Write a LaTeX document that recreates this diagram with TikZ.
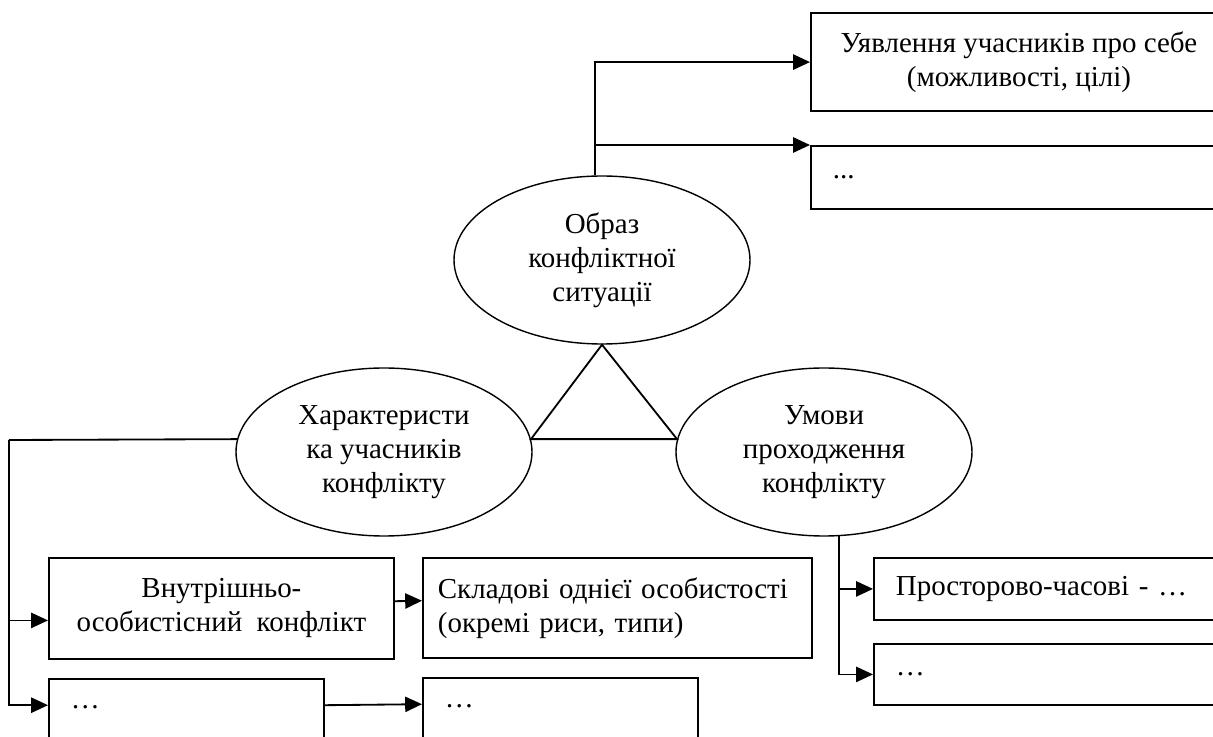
\documentclass[tikz,border=0pt]{standalone}
\usepackage{fontspec}
\setmainfont{Liberation Serif}
\usetikzlibrary{shapes.geometric,arrows.meta}
\tikzset{
  box/.style={draw, line width=1.3pt, inner sep=0pt, align=center,
    font=\fontsize{20.6}{24.2}\selectfont},
  oval/.style={draw, ellipse, line width=1pt, fill=white, inner sep=0pt,
    minimum width=7.4cm, minimum height=4.2cm, align=center,
    font=\fontsize{20.6}{24.2}\selectfont},
  >={Triangle[length=.42cm, width=.38cm]}
}

\begin{document}
\begin{tikzpicture}[line width=1.3pt]
  \useasboundingbox (0, 0) rectangle (30.325, -18.425);
  \clip (0, 0) rectangle (30.325, -18.425);

  \node[oval] at (15.05, -6.5) (image) {Образ\\конфліктної\\ситуації};
  \node[oval] at (9.6, -11.3) (traits) {Характеристи\\ка учасників\\конфлікту};
  \node[oval] at (20.6, -11.3) (terms) {Умови\\проходження\\конфлікту};
  \draw (image.south) -- (traits.5) -- (terms.175) -- cycle;

  \node[box, anchor=south west, minimum width=10.4cm, minimum height=2.45cm]
    at (20.25, -2.8) (self) {Уявлення учасників про себе\\(можливості, цілі)};
  \node[box, anchor=north west, minimum height=1.575cm, text width=9.3cm,
    align=left, inner xsep=.55cm] at (20.25, -3.625) (selfmore) {...};
  \draw[->] (image.95) |- (self.west);
  \draw[->] (image.95 |- selfmore.north west) -- (selfmore.north west);

  \node[box, anchor=north west, minimum width=8.625cm, minimum height=2.525cm]
    at (1.2, -13.925) (inner) {Внутрішньо-\\особистісний~ конфлікт};
  \node[box, anchor=north west, minimum height=2.5cm, text width=8.975cm,
    align=left, inner xsep=.375cm]
    at (10.55, -13.925) (parts) {Складові однієї особистості\\(окремі риси, типи)};
  \node[box, anchor=north west, text width=5.775cm, align=left, inner xsep=.55cm,
    inner ysep=.2cm, text height=.55cm, text depth=2cm]
    at (1.2, -16.95) (innermore) {…};
  \node[box, anchor=north west, text width=5.775cm, align=left, inner xsep=.55cm,
    inner ysep=.2cm, text height=.55cm, text depth=2cm]
    at (10.55, -16.925) (partsmore) {…};

  \coordinate (trunk) at (0.225, -11);
  \draw (traits.175) -- (trunk);
  \draw[->] (trunk) |- ([yshift=-.3cm]inner.west);
  \draw[->] (trunk) |- ([yshift=-.68cm]innermore.north west);
  \draw[->] ([yshift=.18cm]inner.east) -- ([yshift=.18cm]parts.west);
  \draw[->] ([yshift=-.68cm]innermore.north east)
    -- ([yshift=-.68cm]partsmore.north west);

  \node[box, anchor=north west, minimum height=1.55cm, text width=7.825cm,
    align=left, inner xsep=.55cm]
    at (21.825, -13.925) (time) {Просторово-часові - …};
  \node[box, anchor=north west, minimum height=1.525cm, text width=7.825cm,
    align=left, inner xsep=.55cm] at (21.825, -16.075) (timemore) {…};
  \draw[->] (terms.280) |- (time.west);
  \draw[->] (terms.280) |- (timemore.west);
\end{tikzpicture}
\end{document}
